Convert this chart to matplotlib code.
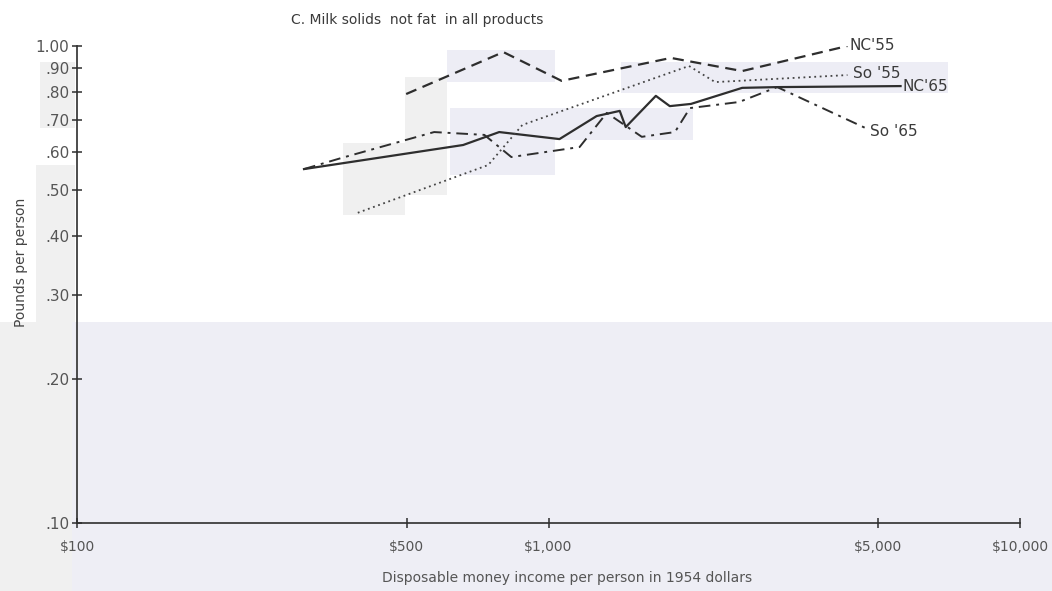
import numpy as np
import matplotlib.pyplot as plt
from matplotlib.patches import Rectangle
from matplotlib.ticker import FixedLocator, NullLocator, FixedFormatter

# ---- series: disposable income per person ($, 1954) vs pounds per person ----
nc65_x = [303, 659, 786, 1055, 1265, 1416, 1458, 1689, 1808, 2005, 2575, 3070, 5580]
nc65_y = [0.552, 0.620, 0.660, 0.638, 0.713, 0.731, 0.676, 0.786, 0.748, 0.756, 0.817, 0.820, 0.824]

nc55_x = [499, 802, 1066, 1818, 2575, 4305]
nc55_y = [0.793, 0.971, 0.845, 0.944, 0.886, 1.000]

so55_x = [394, 745, 880, 1986, 2256, 4305]
so55_y = [0.447, 0.563, 0.683, 0.908, 0.840, 0.869]

so65_x = [303, 363, 572, 731, 834, 1164, 1329, 1577, 1854, 1995, 2536, 3055, 4701]
so65_y = [0.552, 0.582, 0.660, 0.651, 0.585, 0.614, 0.724, 0.645, 0.660, 0.741, 0.763, 0.820, 0.673]

y_ticks = [0.10, 0.20, 0.30, 0.40, 0.50, 0.60, 0.70, 0.80, 0.90, 1.00]
y_tick_labels = [".10", ".20", ".30", ".40", ".50", ".60", ".70", ".80", ".90", "1.00"]
x_ticks = [100, 500, 1000, 5000, 10000]
x_tick_labels = ["$100", "$500", "$1,000", "$5,000", "$10,000"]

INK = "#2e2e2e"
GREY = "#555555"
W, H = 1052, 591

plt.rcParams["font.family"] = ["DejaVu Sans"]

fig = plt.figure(figsize=(W / 100, H / 100), dpi=100)
fig.patch.set_facecolor("white")

# paper tone patches (pixel boxes: left, top, right, bottom)
tone_boxes = [
    ((0, 322, 72, H), "#f0f0f0"),
    ((72, 322, W, H), "#eeeef5"),
    ((40, 62, 75, 128), "#f0f0f0"),
    ((36, 165, 75, 322), "#f0f0f0"),
    ((405, 77, 447, 195), "#f0f0f0"),
    ((343, 143, 405, 215), "#f0f0f0"),
    ((447, 50, 555, 82), "#ededf5"),
    ((450, 108, 555, 175), "#ededf5"),
    ((555, 108, 693, 140), "#ededf5"),
    ((621, 62, 948, 93), "#ededf5"),
]
for (l, t, r, b), c in tone_boxes:
    fig.add_artist(Rectangle((l / W, 1 - b / H), (r - l) / W, (b - t) / H,
                             transform=fig.transFigure, facecolor=c,
                             edgecolor="none", zorder=-5))

ax = fig.add_axes([0.0732, 0.1151, 0.8964, 0.8071])
ax.set_facecolor("none")

ax.set_xscale("log")
ax.set_yscale("log")
ax.set_xlim(100, 10000)
ax.set_ylim(0.1, 1.0)

ax.plot(nc65_x, nc65_y, color=INK, lw=1.6, ls="-")
ax.plot(nc55_x, nc55_y, color=INK, lw=1.6, ls=(0, (5, 3)))
ax.plot(so55_x, so55_y, color="#444444", lw=1.3, ls=(0, (1, 2)))
ax.plot(so65_x, so65_y, color=INK, lw=1.4, ls=(0, (6, 3, 1.5, 3)))

# end-of-line labels
lab = dict(fontsize=11, color="#3a3a3a", va="center", ha="left")
ax.text(nc55_x[-1] * 1.01, nc55_y[-1], "NC'55", **lab)
ax.text(so55_x[-1] * 1.03, so55_y[-1] * 1.01, "So '55", **lab)
ax.text(nc65_x[-1] * 1.01, nc65_y[-1], "NC'65", **lab)
ax.text(so65_x[-1] * 1.02, so65_y[-1] * 0.985, "So '65", **lab)

ax.yaxis.set_major_locator(FixedLocator(y_ticks))
ax.yaxis.set_major_formatter(FixedFormatter(y_tick_labels))
ax.yaxis.set_minor_locator(NullLocator())
ax.xaxis.set_major_locator(FixedLocator(x_ticks))
ax.xaxis.set_major_formatter(FixedFormatter(x_tick_labels))
ax.xaxis.set_minor_locator(NullLocator())

ax.tick_params(axis="y", direction="inout", length=7, width=1.1, colors=INK,
               labelcolor=GREY, labelsize=11, pad=2)
ax.tick_params(axis="x", direction="inout", length=7, width=1.1, colors=INK,
               labelcolor=GREY, labelsize=10, pad=9)

for s in ["top", "right"]:
    ax.spines[s].set_visible(False)
for s in ["left", "bottom"]:
    ax.spines[s].set_color(INK)
    ax.spines[s].set_linewidth(1.2)

ax.set_ylabel("Pounds per person", fontsize=10, color="#444444")
ax.yaxis.set_label_coords(-0.052, 0.547)
ax.set_xlabel("Disposable money income per person in 1954 dollars", fontsize=10,
              color="#555555")
ax.xaxis.set_label_coords(0.52, -0.10)

fig.text(0.397, 0.967, "C. Milk solids  not fat  in all products", fontsize=10,
         color="#3a3a3a", ha="center", va="center")

fig.savefig("out.png", dpi=100)
